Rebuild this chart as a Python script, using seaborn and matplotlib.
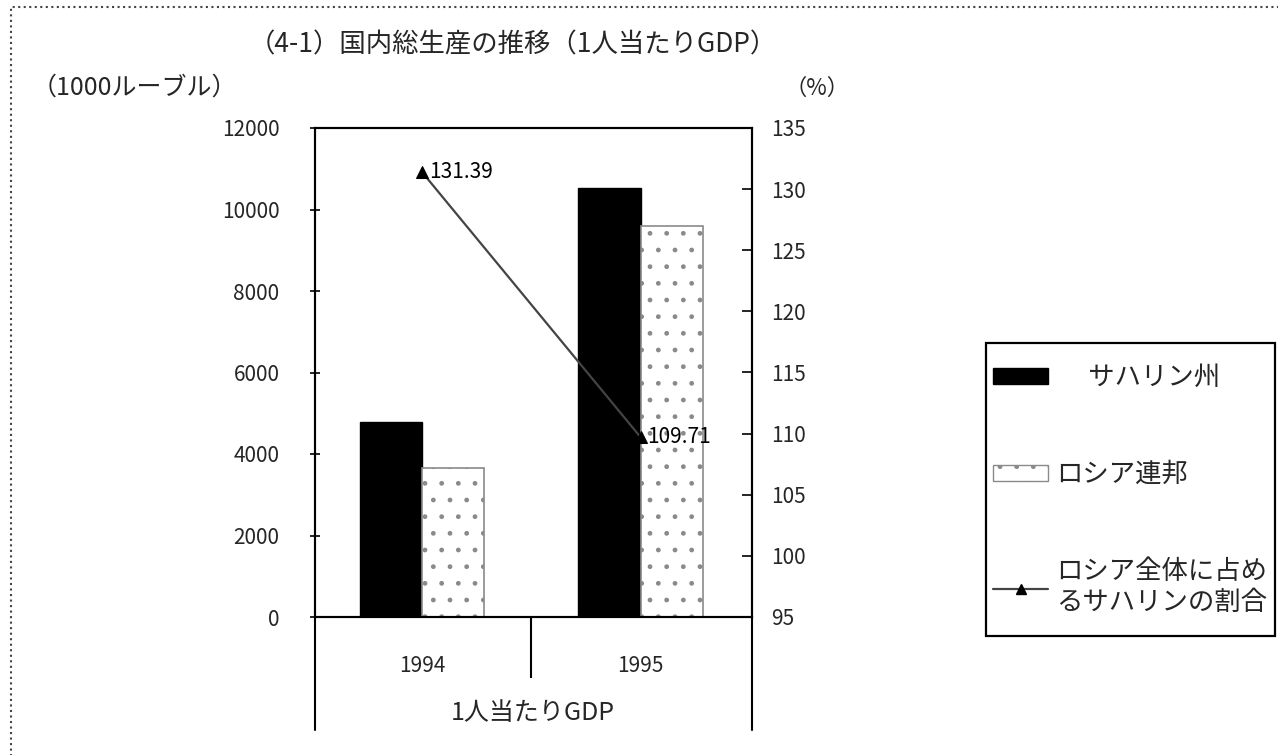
import matplotlib
matplotlib.use("Agg")
import matplotlib.pyplot as plt
import numpy as np
import pandas as pd
import seaborn as sns
from matplotlib.patches import Rectangle, Patch
from matplotlib.lines import Line2D

# ---- data -------------------------------------------------------------
years = ["1994", "1995"]
sakhalin_gdp = [4790, 10530]          # 1000 roubles per capita
russia_gdp = [3645, 9600]             # 1000 roubles per capita
sakhalin_share = [131.39, 109.71]     # % of Russian average
series_names = ["サハリン州", "ロシア連邦"]
share_name = "ロシア全体に占め\nるサハリンの割合"
left_ticks = [0, 2000, 4000, 6000, 8000, 10000, 12000]
right_ticks = [95, 100, 105, 110, 115, 120, 125, 130, 135]

title = "（4-1）国内総生産の推移（1人当たりGDP）"
left_unit = "（1000ルーブル）"
right_unit = "（%）"
x_title = "1人当たりGDP"

# ---- style ------------------------------------------------------------
sns.set_theme(style="white")
plt.rcParams["font.family"] = ["Noto Sans CJK JP", "DejaVu Sans"]
plt.rcParams["hatch.linewidth"] = 1.0
FS = 15      # numbers
FJ = 18      # Japanese text

W, H = 1278, 755
fig = plt.figure(figsize=(W / 100, H / 100), dpi=100)
fig.patch.set_facecolor("white")

def fx(px):
    return px / W

def fy(py):
    return 1 - py / H

# plot area in pixel terms
L, R, T, B = 315, 752, 128, 617
ax = fig.add_axes([fx(L), fy(B), (R - L) / W, (B - T) / H])

df = pd.DataFrame({
    "年": years * 2,
    "値": sakhalin_gdp + russia_gdp,
    "地域": [series_names[0]] * len(years) + [series_names[1]] * len(years),
})
sns.barplot(data=df, x="年", y="値", hue="地域", hue_order=series_names,
            palette=["black", "white"], saturation=1, width=0.57, gap=0,
            ax=ax, legend=False, errorbar=None)

for bar in ax.containers[0]:
    bar.set_edgecolor("black")
    bar.set_linewidth(1.0)
for bar in ax.containers[1]:
    bar.set_facecolor("white")
    bar.set_edgecolor("#8a8a8a")
    bar.set_hatch(".")
    bar.set_linewidth(1.2)

ax.set_ylim(0, 12000)
ax.set_yticks(left_ticks)
ax.set_yticklabels([str(v) for v in left_ticks], fontsize=FS)
ax.set_xlabel("")
ax.set_ylabel("")
ax.tick_params(axis="y", which="major", direction="inout", length=7,
               width=1.2, color="black", pad=22, left=True)

# percentage line on the secondary axis
ax2 = ax.twinx()
sns.lineplot(x=[0, 1], y=sakhalin_share, ax=ax2, color="#444444",
             linewidth=1.6, marker="^", markersize=8,
             markerfacecolor="black", markeredgecolor="black")
for xi, v in zip([0, 1], sakhalin_share):
    ax2.annotate(f"{v:.2f}", (xi, v), xytext=(5, 0),
                 textcoords="offset points", ha="left", va="center",
                 fontsize=FS, color="black")
ax2.set_ylim(95, 135)
ax2.set_yticks(right_ticks)
ax2.set_yticklabels([str(v) for v in right_ticks], fontsize=FS)
ax2.set_ylabel("")
ax2.tick_params(axis="y", direction="in", length=7, width=1.2,
                color="black", pad=14, right=True)

# category axis: labels under each group, a divider between them
ax.set_xlim(-0.49, 1.51)
ax.set_xticks([0, 1])
ax.set_xticklabels(years, fontsize=FS)
ax.tick_params(axis="x", which="major", length=0, pad=27)
ax.set_xticks([0.5], minor=True)
ax.tick_params(axis="x", which="minor", direction="out", length=44,
               width=1.5, color="black", bottom=True)

for a in (ax, ax2):
    for sp in a.spines.values():
        sp.set_color("black")
        sp.set_linewidth(1.5)
        sp.set_visible(True)

# side walls of the category table below the plot
for xa in (0, 1):
    ax.plot([xa, xa], [0, -0.231], transform=ax.transAxes, clip_on=False,
            color="black", linewidth=1.5)

# texts
fig.text(fx(513), fy(45), title, ha="center", va="center", fontsize=19)
fig.text(fx(32), fy(88), left_unit, ha="left", va="center", fontsize=FJ)
fig.text(fx(784), fy(88), right_unit, ha="left", va="center", fontsize=16)
fig.text(fx(533), fy(713), x_title, ha="center", va="center", fontsize=FJ)

# legend: frame drawn as its own box, entries placed inside it
fig.patches.append(Rectangle((fx(986), fy(636)), (1275 - 986) / W,
                             (636 - 343) / H, transform=fig.transFigure,
                             fill=False, linewidth=1.6, edgecolor="black"))
handles = [
    Patch(facecolor="black", edgecolor="black"),
    Patch(facecolor="white", edgecolor="#8a8a8a", hatch="."),
    Line2D([], [], color="#444444", linewidth=1.6, marker="^", markersize=7,
           markerfacecolor="black", markeredgecolor="black"),
]
labels = ["　 " + series_names[0], series_names[1], share_name]
leg = fig.legend(handles, labels, loc="upper left",
                 bbox_to_anchor=(fx(993), fy(364)),
                 bbox_transform=fig.transFigure, frameon=False,
                 fontsize=19, labelspacing=2.65, handlelength=2.1,
                 handleheight=0.55, handletextpad=0.3, borderpad=0,
                 borderaxespad=0)

# dotted outer frame
fig.patches.append(Rectangle((fx(11), -0.05), 1.2, fy(7) + 0.05,
                             transform=fig.transFigure, fill=False,
                             linestyle=":", linewidth=1.5, edgecolor="#444444",
                             clip_on=False))

fig.savefig("out.png", dpi=100)
